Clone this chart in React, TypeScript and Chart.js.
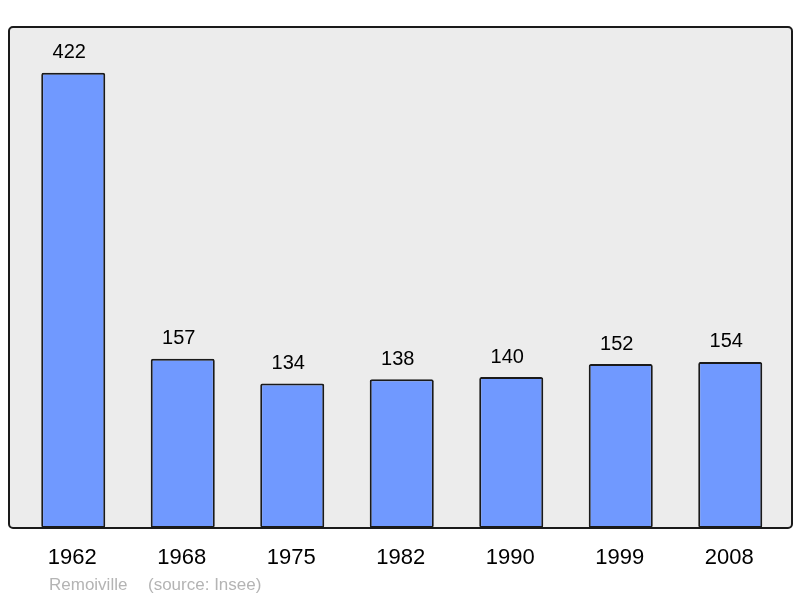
import React, { useEffect, useRef } from "react";
import { Chart, registerables } from "chart.js";

Chart.register(...registerables);

const years = ["1962", "1968", "1975", "1982", "1990", "1999", "2008"];
const population = [422, 157, 134, 138, 140, 152, 154];
const footerLeft = "Remoiville";
const footerRight = "(source: Insee)";

const FONT = "'Liberation Sans', Arial, sans-serif";

const framePlugin = {
  id: "frame",
  beforeDraw(chart: any) {
    const ctx = chart.ctx;
    ctx.save();
    ctx.fillStyle = "#ffffff";
    ctx.fillRect(0, 0, chart.width, chart.height);
    ctx.beginPath();
    ctx.roundRect(9, 27, 783, 501, 4);
    ctx.fillStyle = "#ececec";
    ctx.fill();
    ctx.restore();
  },
  afterDatasetsDraw(chart: any) {
    const ctx = chart.ctx;
    const xs = chart.scales.x;
    const ys = chart.scales.y;
    ctx.save();
    ctx.beginPath();
    ctx.roundRect(9, 27, 783, 501, 4);
    ctx.strokeStyle = "#1a1a1a";
    ctx.lineWidth = 2;
    ctx.stroke();

    ctx.fillStyle = "#000000";
    ctx.textAlign = "center";
    ctx.textBaseline = "middle";
    ctx.font = `20px ${FONT}`;
    population.forEach((v, i) => {
      const x = xs.getPixelForValue(i);
      const y = ys.getPixelForValue(v);
      ctx.fillText(String(v), x - 4, y - 20);
    });
    ctx.font = `22px ${FONT}`;
    years.forEach((yr, i) => {
      const x = xs.getPixelForValue(i);
      ctx.fillText(yr, x - 1, 557.5);
    });
    ctx.font = `17px ${FONT}`;
    ctx.fillStyle = "#b4b4b4";
    ctx.textAlign = "left";
    ctx.fillText(footerLeft, 49, 585);
    ctx.fillText(footerRight, 148, 585);
    ctx.restore();
  },
};

export default function App() {
  const ref = useRef<HTMLCanvasElement>(null);
  useEffect(() => {
    if (!ref.current) return;
    const chart = new Chart(ref.current, {
      type: "bar",
      data: {
        labels: years,
        datasets: [
          {
            data: population,
            backgroundColor: "#7099ff",
            borderColor: "#1a1a1a",
            borderWidth: 2,
            borderRadius: 2,
            borderSkipped: false,
            barPercentage: 0.585,
            categoryPercentage: 1,
          },
        ],
      },
      options: {
        animation: false,
        responsive: false,
        maintainAspectRatio: false,
        layout: { padding: { left: 18.5, right: 15, top: 27, bottom: 70 } },
        plugins: { legend: { display: false }, tooltip: { enabled: false } },
        scales: {
          x: { display: false },
          y: { display: false, min: 0, max: 464.5 },
        },
      },
      plugins: [framePlugin],
    });
    return () => chart.destroy();
  }, []);
  return (
    <div style={{ position: "absolute", left: 0, top: 0, width: 800, height: 598 }}>
      <canvas ref={ref} width={800} height={598} style={{ width: 800, height: 598 }} />
    </div>
  );
}
